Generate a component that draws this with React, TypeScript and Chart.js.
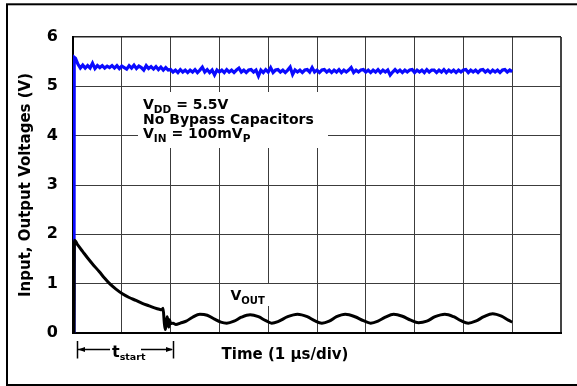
import React, { useEffect, useRef } from "react";
import { Chart, registerables } from "chart.js";

Chart.register(...registerables);

const FONT = "'DejaVu Sans', 'Liberation Sans', sans-serif";

// ---- axes ----
const xMin = 0;
const xMax = 10; // 10 divisions, 1 µs/div
const yMin = 0;
const yMax = 6;
const yTitle = "Input, Output Voltages (V)";
const xTitle = "Time (1 µs/div)";

// ---- input (supply) trace ----
const blueRiseTime = [0.02, 0.025];
const blueRiseVolts = [0, 5.59];
const blueSampleStart = 0.05;
const blueSampleStep = 0.05;
const blueVolts = [
  5.57, 5.45, 5.37, 5.43, 5.37, 5.42, 5.37, 5.47, 5.36, 5.42,
  5.38, 5.42, 5.37, 5.41, 5.38, 5.42, 5.37, 5.42, 5.36, 5.41,
  5.38, 5.35, 5.42, 5.37, 5.43, 5.36, 5.41, 5.38, 5.33, 5.42,
  5.36, 5.40, 5.35, 5.40, 5.34, 5.39, 5.33, 5.38, 5.33, 5.34,
  5.29, 5.33, 5.28, 5.34, 5.29, 5.33, 5.28, 5.33, 5.29, 5.34,
  5.28, 5.33, 5.39, 5.29, 5.34, 5.28, 5.33, 5.23, 5.33, 5.29,
  5.33, 5.28, 5.34, 5.29, 5.33, 5.28, 5.33, 5.37, 5.29, 5.33,
  5.28, 5.33, 5.34, 5.29, 5.33, 5.21, 5.33, 5.28, 5.34, 5.29,
  5.38, 5.28, 5.33, 5.34, 5.29, 5.33, 5.28, 5.33, 5.39, 5.24,
  5.33, 5.29, 5.33, 5.28, 5.33, 5.34, 5.29, 5.38, 5.29, 5.33,
  5.28, 5.33, 5.34, 5.29, 5.33, 5.28, 5.33, 5.29, 5.34, 5.28,
  5.33, 5.29, 5.33, 5.38, 5.28, 5.33, 5.29, 5.33, 5.34, 5.29,
  5.33, 5.28, 5.33, 5.29, 5.34, 5.28, 5.33, 5.29, 5.33, 5.23,
  5.29, 5.34, 5.29, 5.33, 5.28, 5.33, 5.29, 5.33, 5.34, 5.28,
  5.33, 5.29, 5.33, 5.28, 5.34, 5.29, 5.33, 5.33, 5.28, 5.33,
  5.29, 5.34, 5.28, 5.33, 5.29, 5.33, 5.28, 5.33, 5.29, 5.33,
  5.34, 5.28, 5.33, 5.29, 5.33, 5.28, 5.33, 5.34, 5.29, 5.33,
  5.28, 5.33, 5.29, 5.33, 5.28, 5.33, 5.34, 5.29, 5.33, 5.30,
];

// ---- output trace ----
const vOutTime = [
  0.02, 0.03, 0.1, 0.2, 0.3, 0.4, 0.54, 0.64, 0.74, 0.88,
  1.02, 1.15, 1.29, 1.42, 1.56, 1.67, 1.77, 1.82, 1.845, 1.87,
  1.89, 1.91, 1.93, 1.95, 1.965, 1.98, 2.0, 2.05, 2.11, 2.2,
  2.32, 2.45, 2.6, 2.75, 2.9, 3.03, 3.15, 3.3, 3.45, 3.63,
  3.8, 3.95, 4.07, 4.2, 4.4, 4.6, 4.8, 4.95, 5.1, 5.25,
  5.4, 5.58, 5.78, 5.95, 6.1, 6.25, 6.4, 6.57, 6.75, 6.92,
  7.08, 7.25, 7.42, 7.62, 7.8, 7.95, 8.1, 8.25, 8.42, 8.6,
  8.78, 8.92, 9.0,
];
const vOutVolts = [
  0, 1.88, 1.78, 1.65, 1.52, 1.40, 1.24, 1.12, 1.01, 0.89,
  0.79, 0.72, 0.66, 0.60, 0.55, 0.51, 0.48, 0.47, 0.50, 0.22,
  0.07, 0.18, 0.33, 0.21, 0.12, 0.27, 0.19, 0.20, 0.17, 0.20,
  0.24, 0.32, 0.38, 0.36, 0.28, 0.22, 0.20, 0.24, 0.32, 0.37,
  0.33, 0.25, 0.20, 0.23, 0.33, 0.38, 0.33, 0.25, 0.20, 0.24,
  0.33, 0.38, 0.33, 0.25, 0.20, 0.24, 0.32, 0.38, 0.34, 0.26,
  0.21, 0.24, 0.33, 0.38, 0.33, 0.25, 0.20, 0.24, 0.33, 0.39,
  0.34, 0.26, 0.22,
];

// ---- annotation texts ----
type Part = { t: string; sub?: boolean };
const condLine1: Part[] = [{ t: "V" }, { t: "DD", sub: true }, { t: " = 5.5V" }];
const condLine2: Part[] = [{ t: "No Bypass Capacitors" }];
const condLine3: Part[] = [{ t: "V" }, { t: "IN", sub: true }, { t: " = 100mV" }, { t: "P", sub: true }];
const voutLabel: Part[] = [{ t: "V" }, { t: "OUT", sub: true }];
const tstartLabel: Part[] = [{ t: "t" }, { t: "start", sub: true }];

function drawRich(ctx: CanvasRenderingContext2D, x: number, y: number, parts: Part[], size: number, subSize: number, drop: number) {
  let cx = x;
  for (const p of parts) {
    ctx.font = `bold ${p.sub ? subSize : size}px ${FONT}`;
    ctx.fillText(p.t, cx, p.sub ? y + drop : y);
    cx += ctx.measureText(p.t).width;
  }
  return cx;
}

const overlayPlugin = {
  id: "overlay",
  afterDraw(chart: any) {
    const ctx: CanvasRenderingContext2D = chart.ctx;
    ctx.save();
    // white boxes that interrupt the grid behind labels
    ctx.fillStyle = "#fff";
    ctx.fillRect(138, 92, 190, 56);
    ctx.fillRect(222, 284, 49, 22);

    ctx.fillStyle = "#000";
    ctx.textAlign = "left";
    ctx.textBaseline = "alphabetic";
    drawRich(ctx, 143, 109, condLine1, 14, 10.5, 3.5);
    drawRich(ctx, 143, 123.5, condLine2, 14, 10.5, 3.5);
    drawRich(ctx, 143, 138, condLine3, 14, 10.5, 3.5);
    drawRich(ctx, 230.5, 300, voutLabel, 14, 10, 3.5);

    // x title
    ctx.font = `bold 15px ${FONT}`;
    ctx.textAlign = "center";
    ctx.fillText(xTitle, 285, 358.5);
    ctx.textAlign = "left";

    // t_start marker
    ctx.strokeStyle = "#000";
    ctx.lineWidth = 1.5;
    ctx.beginPath();
    ctx.moveTo(77.5, 341); ctx.lineTo(77.5, 358.5);
    ctx.moveTo(173.5, 341); ctx.lineTo(173.5, 358.5);
    ctx.moveTo(78, 349.5); ctx.lineTo(110, 349.5);
    ctx.moveTo(141, 349.5); ctx.lineTo(172, 349.5);
    ctx.stroke();
    ctx.beginPath();
    ctx.moveTo(78, 349.5); ctx.lineTo(85, 347); ctx.lineTo(85, 352); ctx.closePath();
    ctx.moveTo(173, 349.5); ctx.lineTo(166, 347); ctx.lineTo(166, 352); ctx.closePath();
    ctx.fill();
    drawRich(ctx, 112, 356.5, tstartLabel, 16, 9.5, 3.5);

    // outer frame
    ctx.lineWidth = 2;
    ctx.strokeRect(7, 4.3, 620, 380.7);
    ctx.restore();
  },
};

export default function App() {
  const ref = useRef<HTMLCanvasElement>(null);
  useEffect(() => {
    const blueData = [
      ...blueRiseTime.map((t, i) => ({ x: t, y: blueRiseVolts[i] })),
      ...blueVolts.map((v, i) => ({ x: blueSampleStart + i * blueSampleStep, y: v })),
    ];
    const blackData = vOutTime.map((t, i) => ({ x: t, y: vOutVolts[i] }));
    const gridColor = "#3c3c3c";
    const chart = new Chart(ref.current!, {
      type: "line",
      data: {
        datasets: [
          {
            label: "VOUT",
            data: blackData,
            borderColor: "#000",
            borderWidth: 3,
            pointRadius: 0,
            cubicInterpolationMode: "monotone",
            order: 0,
          },
          {
            label: "VDD",
            data: blueData,
            borderColor: "#0a0aff",
            borderWidth: 3.2,
            pointRadius: 0,
            tension: 0,
            order: 1,
          },
        ],
      },
      options: {
        animation: false,
        responsive: false,
        devicePixelRatio: 1,
        layout: { padding: { top: 37, right: 16, left: 0, bottom: 0 } },
        plugins: { legend: { display: false }, tooltip: { enabled: false } },
        scales: {
          x: {
            type: "linear",
            min: xMin,
            max: xMax,
            ticks: { stepSize: 1, display: false },
            grid: {
              drawTicks: false,
              color: (c: any) => (c.tick && c.tick.value === xMax ? "#444" : gridColor),
              lineWidth: (c: any) => (c.tick && c.tick.value === xMax ? 2 : 1),
            },
            border: { display: true, color: "#000", width: 2 },
            afterFit: (s: any) => { s.height = 53; },
          },
          y: {
            type: "linear",
            min: yMin,
            max: yMax,
            ticks: {
              stepSize: 1,
              color: "#000",
              padding: 15,
              font: { family: FONT, size: 16, weight: "bold" },
              callback: (v: any) => String(v),
            },
            grid: {
              drawTicks: false,
              color: (c: any) => (c.tick && c.tick.value === yMax ? "#222" : gridColor),
              lineWidth: (c: any) => (c.tick && c.tick.value === yMax ? 1.5 : 1),
            },
            border: { display: true, color: "#000", width: 2 },
            title: {
              display: true,
              text: yTitle,
              color: "#000",
              font: { family: FONT, size: 15, weight: "bold" },
              padding: { top: 17, bottom: 0 },
            },
            afterFit: (s: any) => { s.width = 73; },
          },
        },
      },
      plugins: [overlayPlugin],
    } as any);
    return () => chart.destroy();
  }, []);
  return (
    <div style={{ position: "absolute", left: 0, top: 0, width: 577, height: 386, background: "#fff" }}>
      <canvas ref={ref} width={577} height={386} style={{ display: "block", width: 577, height: 386 }} />
    </div>
  );
}
